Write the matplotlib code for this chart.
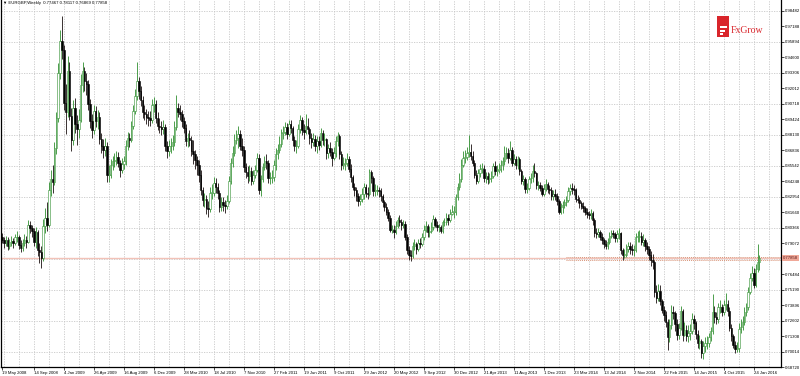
import matplotlib
matplotlib.use("Agg")
from matplotlib import pyplot as plt
from matplotlib.patches import Rectangle
import numpy as np

plt.rcParams['font.family'] = ['Liberation Sans', 'DejaVu Sans']

# EURGBP weekly candles, first bar = week of 18/19 May 2008
first_open = 0.7960

close = [
    0.7935, 0.7905, 0.7930, 0.7885, 0.7915, 0.7925, 0.7910, 0.7955, 0.7960, 0.7895,
    0.7870, 0.7905, 0.7935, 0.7920, 0.8060, 0.8030, 0.8010, 0.7920, 0.8000, 0.7850,
    0.7830, 0.7780, 0.8050, 0.8120, 0.8060, 0.8350, 0.8440, 0.8420, 0.8700, 0.8950,
    0.9330, 0.9600, 0.9520, 0.9080, 0.9000, 0.9350, 0.8970, 0.8770, 0.9040, 0.8900,
    0.8860, 0.8940, 0.9230, 0.9350, 0.9260, 0.9240, 0.9070, 0.8930, 0.8850, 0.9010,
    0.8930, 0.8960, 0.8780, 0.8720, 0.8690, 0.8720, 0.8480, 0.8480, 0.8560, 0.8590,
    0.8600, 0.8630, 0.8580, 0.8520, 0.8570, 0.8590, 0.8720, 0.8790, 0.8770, 0.8890,
    0.9010, 0.9140, 0.9260, 0.9180, 0.9100, 0.9000, 0.8990, 0.8960, 0.8950, 0.8940,
    0.9060, 0.9070, 0.8950, 0.8890, 0.8880, 0.8860, 0.8880, 0.8720, 0.8680, 0.8720,
    0.8720, 0.8750, 0.8880, 0.9040, 0.9000, 0.8990, 0.8930, 0.8870, 0.8760, 0.8790,
    0.8770, 0.8680, 0.8650, 0.8600, 0.8560, 0.8480, 0.8350, 0.8270, 0.8280, 0.8200,
    0.8190, 0.8330, 0.8330, 0.8410, 0.8380, 0.8330, 0.8210, 0.8250, 0.8230, 0.8220,
    0.8260, 0.8430, 0.8580, 0.8660, 0.8770, 0.8790, 0.8820, 0.8720, 0.8690, 0.8540,
    0.8500, 0.8470, 0.8510, 0.8430, 0.8480, 0.8520, 0.8620, 0.8350, 0.8440, 0.8540,
    0.8590, 0.8580, 0.8450, 0.8450, 0.8460, 0.8560, 0.8650, 0.8690, 0.8740, 0.8830,
    0.8840, 0.8880, 0.8820, 0.8900, 0.8870, 0.8770, 0.8720, 0.8720, 0.8860, 0.8940,
    0.8850, 0.8840, 0.8890, 0.8860, 0.8790, 0.8750, 0.8780, 0.8720, 0.8760, 0.8730,
    0.8830, 0.8770, 0.8780, 0.8660, 0.8700, 0.8670, 0.8620, 0.8660, 0.8760, 0.8800,
    0.8650, 0.8560, 0.8570, 0.8580, 0.8610, 0.8530, 0.8460, 0.8380, 0.8350, 0.8300,
    0.8260, 0.8280, 0.8320, 0.8380, 0.8330, 0.8320, 0.8500, 0.8450, 0.8340, 0.8350,
    0.8350, 0.8340, 0.8300, 0.8250, 0.8210, 0.8170, 0.8120, 0.8020, 0.8020, 0.8000,
    0.8050, 0.8100, 0.8080, 0.8060, 0.8070, 0.7960, 0.7850, 0.7810, 0.7800, 0.7880,
    0.7900, 0.7860, 0.7910, 0.7900, 0.7960, 0.8020, 0.8050, 0.8000, 0.8010, 0.8040,
    0.8110, 0.8060, 0.8040, 0.8040, 0.8010, 0.8080, 0.8080, 0.8120, 0.8100, 0.8150,
    0.8170, 0.8170, 0.8290, 0.8380, 0.8440, 0.8560, 0.8620, 0.8630, 0.8660, 0.8670,
    0.8640, 0.8580, 0.8480, 0.8430, 0.8490, 0.8530, 0.8530, 0.8450, 0.8470, 0.8440,
    0.8450, 0.8470, 0.8550, 0.8510, 0.8520, 0.8530, 0.8560, 0.8590, 0.8660, 0.8660,
    0.8620, 0.8690, 0.8580, 0.8610, 0.8560, 0.8610, 0.8510, 0.8430, 0.8440, 0.8360,
    0.8370, 0.8440, 0.8450, 0.8510, 0.8490, 0.8390, 0.8390, 0.8370, 0.8320, 0.8360,
    0.8400, 0.8360, 0.8350, 0.8300, 0.8320, 0.8300, 0.8260, 0.8170, 0.8210, 0.8230,
    0.8250, 0.8270, 0.8340, 0.8370, 0.8360, 0.8350, 0.8280, 0.8270, 0.8240, 0.8220,
    0.8200, 0.8170, 0.8150, 0.8140, 0.8160, 0.8100, 0.7990, 0.7980, 0.8000, 0.7960,
    0.7930, 0.7900, 0.7880, 0.7920, 0.7970, 0.7990, 0.7980, 0.7950, 0.7980, 0.7990,
    0.7850, 0.7810, 0.7810, 0.7860, 0.7880, 0.7860, 0.7850, 0.7850, 0.7960, 0.7960,
    0.7970, 0.7920, 0.7930, 0.7880, 0.7860, 0.7810, 0.7770, 0.7750, 0.7500, 0.7450,
    0.7510, 0.7420, 0.7350, 0.7310, 0.7250, 0.7120, 0.7220, 0.7330, 0.7320, 0.7230,
    0.7140, 0.7200, 0.7340, 0.7140, 0.7180, 0.7130, 0.7160, 0.7170, 0.7270, 0.7240,
    0.7150, 0.7070, 0.7090, 0.6990, 0.7050, 0.7070, 0.7070, 0.7120, 0.7170, 0.7330,
    0.7290, 0.7270, 0.7370, 0.7370, 0.7330, 0.7390, 0.7400, 0.7340, 0.7200, 0.7130,
    0.7060, 0.7020, 0.7030, 0.7190, 0.7210, 0.7250, 0.7330, 0.7370, 0.7500, 0.7620,
    0.7660, 0.7560, 0.7690, 0.77467, 0.77858,
]

high = [
    0.7990, 0.7960, 0.7965, 0.7955, 0.7945, 0.7970, 0.7950, 0.7985, 0.8010, 0.7975,
    0.7930, 0.7940, 0.7980, 0.7965, 0.8100, 0.8095, 0.8060, 0.8030, 0.8040, 0.8020,
    0.7905, 0.7880, 0.8110, 0.8200, 0.8250, 0.8420, 0.8520, 0.8560, 0.8750, 0.9000,
    0.9410, 0.9690, 0.9803, 0.9560, 0.9240, 0.9470, 0.9420, 0.9040, 0.9100, 0.9120,
    0.8980, 0.9030, 0.9320, 0.9420, 0.9380, 0.9330, 0.9270, 0.9110, 0.8990, 0.9060,
    0.9050, 0.9020, 0.9000, 0.8830, 0.8780, 0.8790, 0.8750, 0.8560, 0.8610, 0.8640,
    0.8660, 0.8680, 0.8670, 0.8600, 0.8620, 0.8640, 0.8770, 0.8840, 0.8830, 0.8930,
    0.9060, 0.9200, 0.9420, 0.9300, 0.9220, 0.9140, 0.9060, 0.9030, 0.9010, 0.9010,
    0.9110, 0.9130, 0.9100, 0.9000, 0.8950, 0.8930, 0.8940, 0.8900, 0.8760, 0.8770,
    0.8790, 0.8810, 0.8930, 0.9150, 0.9080, 0.9060, 0.9020, 0.8960, 0.8900, 0.8830,
    0.8850, 0.8800, 0.8770, 0.8690, 0.8640, 0.8600, 0.8520, 0.8380, 0.8330, 0.8310,
    0.8260, 0.8380, 0.8400, 0.8460, 0.8450, 0.8410, 0.8350, 0.8290, 0.8290, 0.8270,
    0.8310, 0.8470, 0.8620, 0.8720, 0.8820, 0.8850, 0.8890, 0.8850, 0.8790, 0.8720,
    0.8580, 0.8550, 0.8560, 0.8540, 0.8520, 0.8560, 0.8660, 0.8650, 0.8480, 0.8580,
    0.8640, 0.8650, 0.8600, 0.8500, 0.8520, 0.8600, 0.8700, 0.8740, 0.8800, 0.8860,
    0.8890, 0.8920, 0.8910, 0.8940, 0.8940, 0.8890, 0.8800, 0.8770, 0.8900, 0.8980,
    0.8960, 0.8900, 0.8990, 0.8950, 0.8880, 0.8830, 0.8830, 0.8810, 0.8800, 0.8800,
    0.8870, 0.8850, 0.8830, 0.8790, 0.8740, 0.8750, 0.8700, 0.8710, 0.8800, 0.8840,
    0.8820, 0.8680, 0.8630, 0.8620, 0.8660, 0.8640, 0.8570, 0.8480, 0.8410, 0.8380,
    0.8330, 0.8320, 0.8370, 0.8410, 0.8400, 0.8380, 0.8530, 0.8520, 0.8470, 0.8400,
    0.8390, 0.8380, 0.8370, 0.8320, 0.8270, 0.8240, 0.8190, 0.8140, 0.8060, 0.8060,
    0.8090, 0.8130, 0.8140, 0.8110, 0.8100, 0.8090, 0.7980, 0.7880, 0.7850, 0.7920,
    0.7940, 0.7920, 0.7940, 0.7950, 0.7990, 0.8060, 0.8090, 0.8070, 0.8050, 0.8080,
    0.8140, 0.8130, 0.8090, 0.8070, 0.8060, 0.8100, 0.8120, 0.8160, 0.8150, 0.8190,
    0.8230, 0.8220, 0.8320, 0.8410, 0.8490, 0.8610, 0.8680, 0.8690, 0.8710, 0.8815,
    0.8740, 0.8680, 0.8600, 0.8520, 0.8530, 0.8570, 0.8580, 0.8560, 0.8500, 0.8500,
    0.8490, 0.8510, 0.8580, 0.8590, 0.8560, 0.8580, 0.8600, 0.8630, 0.8720, 0.8710,
    0.8700, 0.8760, 0.8710, 0.8650, 0.8640, 0.8640, 0.8630, 0.8530, 0.8480, 0.8460,
    0.8410, 0.8470, 0.8490, 0.8560, 0.8580, 0.8500, 0.8430, 0.8420, 0.8390, 0.8400,
    0.8440, 0.8420, 0.8390, 0.8380, 0.8350, 0.8360, 0.8330, 0.8280, 0.8240, 0.8260,
    0.8280, 0.8300, 0.8380, 0.8400, 0.8410, 0.8390, 0.8370, 0.8310, 0.8290, 0.8260,
    0.8250, 0.8220, 0.8200, 0.8180, 0.8190, 0.8180, 0.8120, 0.8030, 0.8030, 0.8020,
    0.7990, 0.7950, 0.7930, 0.7950, 0.8000, 0.8020, 0.8020, 0.8000, 0.8020, 0.8030,
    0.8000, 0.7870, 0.7860, 0.7900, 0.7920, 0.7920, 0.7900, 0.7890, 0.7990, 0.8010,
    0.8020, 0.8000, 0.7980, 0.7950, 0.7920, 0.7880, 0.7840, 0.7820, 0.7770, 0.7560,
    0.7570, 0.7560, 0.7440, 0.7380, 0.7340, 0.7270, 0.7270, 0.7390, 0.7380, 0.7340,
    0.7270, 0.7240, 0.7380, 0.7360, 0.7250, 0.7220, 0.7220, 0.7230, 0.7320, 0.7310,
    0.7260, 0.7180, 0.7140, 0.7110, 0.7090, 0.7120, 0.7130, 0.7160, 0.7210, 0.7480,
    0.7380, 0.7330, 0.7410, 0.7430, 0.7400, 0.7430, 0.7490, 0.7430, 0.7370, 0.7230,
    0.7150, 0.7090, 0.7080, 0.7240, 0.7270, 0.7300, 0.7370, 0.7410, 0.7540, 0.7660,
    0.7720, 0.7700, 0.7730, 0.7900, 0.78117,
]

low = [
    0.7905, 0.7870, 0.7880, 0.7850, 0.7860, 0.7880, 0.7865, 0.7895, 0.7920, 0.7860,
    0.7835, 0.7840, 0.7880, 0.7870, 0.7905, 0.7990, 0.7960, 0.7880, 0.7870, 0.7800,
    0.7740, 0.7700, 0.7760, 0.7990, 0.8010, 0.8040, 0.8300, 0.8330, 0.8390, 0.8650,
    0.8920, 0.9280, 0.9450, 0.9020, 0.8820, 0.8960, 0.8940, 0.8680, 0.8730, 0.8830,
    0.8730, 0.8790, 0.8920, 0.9170, 0.9180, 0.9150, 0.9020, 0.8870, 0.8790, 0.8820,
    0.8880, 0.8860, 0.8740, 0.8660, 0.8620, 0.8640, 0.8420, 0.8420, 0.8450, 0.8520,
    0.8540, 0.8560, 0.8540, 0.8460, 0.8490, 0.8530, 0.8560, 0.8690, 0.8710, 0.8750,
    0.8860, 0.8990, 0.9100, 0.9110, 0.9050, 0.8950, 0.8940, 0.8900, 0.8890, 0.8890,
    0.8910, 0.9000, 0.8910, 0.8850, 0.8830, 0.8810, 0.8820, 0.8680, 0.8620, 0.8640,
    0.8660, 0.8690, 0.8720, 0.8850, 0.8960, 0.8940, 0.8880, 0.8830, 0.8720, 0.8710,
    0.8720, 0.8640, 0.8570, 0.8530, 0.8480, 0.8420, 0.8310, 0.8220, 0.8210, 0.8150,
    0.8130, 0.8170, 0.8280, 0.8300, 0.8330, 0.8280, 0.8170, 0.8180, 0.8180, 0.8160,
    0.8190, 0.8240, 0.8400, 0.8540, 0.8640, 0.8740, 0.8700, 0.8690, 0.8640, 0.8500,
    0.8450, 0.8410, 0.8430, 0.8390, 0.8400, 0.8450, 0.8500, 0.8320, 0.8300, 0.8420,
    0.8520, 0.8530, 0.8410, 0.8400, 0.8410, 0.8430, 0.8520, 0.8610, 0.8660, 0.8710,
    0.8780, 0.8810, 0.8780, 0.8800, 0.8830, 0.8720, 0.8680, 0.8660, 0.8700, 0.8830,
    0.8810, 0.8780, 0.8820, 0.8820, 0.8740, 0.8700, 0.8720, 0.8680, 0.8660, 0.8690,
    0.8710, 0.8730, 0.8720, 0.8610, 0.8620, 0.8640, 0.8550, 0.8600, 0.8630, 0.8720,
    0.8610, 0.8520, 0.8530, 0.8520, 0.8550, 0.8500, 0.8420, 0.8350, 0.8300, 0.8260,
    0.8220, 0.8230, 0.8250, 0.8280, 0.8290, 0.8280, 0.8300, 0.8410, 0.8300, 0.8300,
    0.8310, 0.8290, 0.8260, 0.8210, 0.8180, 0.8140, 0.8090, 0.8000, 0.7990, 0.7950,
    0.7980, 0.8030, 0.8050, 0.8020, 0.8030, 0.7930, 0.7820, 0.7770, 0.7755, 0.7780,
    0.7850, 0.7820, 0.7840, 0.7870, 0.7880, 0.7930, 0.8000, 0.7960, 0.7960, 0.7990,
    0.8020, 0.8040, 0.8010, 0.8000, 0.7990, 0.7990, 0.8050, 0.8060, 0.8060, 0.8080,
    0.8140, 0.8120, 0.8140, 0.8270, 0.8350, 0.8420, 0.8540, 0.8580, 0.8600, 0.8630,
    0.8600, 0.8550, 0.8450, 0.8400, 0.8410, 0.8460, 0.8490, 0.8420, 0.8410, 0.8400,
    0.8410, 0.8420, 0.8450, 0.8480, 0.8470, 0.8490, 0.8500, 0.8520, 0.8560, 0.8610,
    0.8580, 0.8600, 0.8550, 0.8560, 0.8530, 0.8530, 0.8480, 0.8400, 0.8390, 0.8330,
    0.8330, 0.8350, 0.8410, 0.8420, 0.8460, 0.8360, 0.8350, 0.8340, 0.8300, 0.8300,
    0.8340, 0.8330, 0.8320, 0.8270, 0.8270, 0.8270, 0.8230, 0.8150, 0.8150, 0.8160,
    0.8200, 0.8220, 0.8250, 0.8310, 0.8320, 0.8310, 0.8250, 0.8240, 0.8200, 0.8190,
    0.8170, 0.8140, 0.8120, 0.8110, 0.8110, 0.8060, 0.7960, 0.7950, 0.7960, 0.7930,
    0.7900, 0.7870, 0.7860, 0.7860, 0.7900, 0.7950, 0.7950, 0.7920, 0.7920, 0.7940,
    0.7820, 0.7770, 0.7780, 0.7790, 0.7830, 0.7820, 0.7810, 0.7800, 0.7830, 0.7920,
    0.7920, 0.7890, 0.7880, 0.7840, 0.7820, 0.7770, 0.7720, 0.7690, 0.7460, 0.7410,
    0.7420, 0.7390, 0.7320, 0.7260, 0.7210, 0.7015, 0.7080, 0.7190, 0.7270, 0.7170,
    0.7100, 0.7110, 0.7180, 0.7090, 0.7130, 0.7090, 0.7080, 0.7100, 0.7150, 0.7190,
    0.7110, 0.7030, 0.7020, 0.6950, 0.6936, 0.7000, 0.7020, 0.7040, 0.7090, 0.7150,
    0.7240, 0.7230, 0.7240, 0.7320, 0.7300, 0.7310, 0.7350, 0.7300, 0.7170, 0.7090,
    0.7030, 0.6990, 0.6994, 0.7000, 0.7160, 0.7180, 0.7220, 0.7300, 0.7350, 0.7480,
    0.7590, 0.7530, 0.7540, 0.7670, 0.76869,
]

tick_idx = [0] + [17 + 16 * k for k in range(25)]
tick_labels = [
    "19 May 2008", "14 Sep 2008", "4 Jan 2009", "26 Apr 2009", "16 Aug 2009",
    "6 Dec 2009", "28 Mar 2010", "18 Jul 2010", "7 Nov 2010", "27 Feb 2011",
    "19 Jun 2011", "9 Oct 2011", "29 Jan 2012", "20 May 2012", "9 Sep 2012",
    "30 Dec 2012", "21 Apr 2013", "11 Aug 2013", "1 Dec 2013", "23 Mar 2014",
    "13 Jul 2014", "2 Nov 2014", "22 Feb 2015", "14 Jun 2015", "4 Oct 2015",
    "24 Jan 2016",
]

zone_top, zone_bottom = 0.7792, 0.7770

close = np.array(close)
high = np.array(high)
low = np.array(low)
opn = np.r_[first_open, close[:-1]]
x = np.arange(len(close))
up = close >= opn

bull = '#2f8f2f'
bear = '#1a1010'
small = 3.1

fig = plt.figure(figsize=(8, 3.76), dpi=100)
fig.patch.set_facecolor('white')
ax = fig.add_axes([1 / 800, 9 / 376, 780 / 800, 367 / 376])

ymin, ymax = 0.6872, 0.9940
ax.set_xlim(-0.5, 415.5)
ax.set_ylim(ymin, ymax)

# grid
yt = ymin + 0.01294 * np.arange(24)
ax.hlines(yt[1::2], -0.5, 415.5, colors='#c8c8c8', linestyles=(0, (1.5, 1.5)), lw=0.6, zorder=0)
ax.vlines(np.arange(1, 416, 8), ymin, ymax, colors='#c8c8c8', linestyles=(0, (1.5, 1.5)), lw=0.6, zorder=0)

# bid line + zone
ax.axhline(close[-1], color='#f2c2b8', lw=1.0, zorder=1)
ax.hlines([zone_top, zone_bottom], 301, 415.5, colors='#d8957a', linestyles=(0, (1, 1)), lw=0.7, zorder=1)

# candles
ax.vlines(x[up], low[up], high[up], color=bull, lw=0.6, zorder=2)
ax.vlines(x[~up], low[~up], high[~up], color=bear, lw=0.6, zorder=2)
body_lo = np.minimum(opn, close)
body_h = np.maximum(np.abs(close - opn), 0.0003)
ax.bar(x[up], body_h[up], bottom=body_lo[up], width=0.85, color='white',
       edgecolor=bull, lw=0.4, zorder=3)
ax.bar(x[~up], body_h[~up], bottom=body_lo[~up], width=0.85, color='black',
       edgecolor='black', lw=0.4, zorder=3)

# axes look
ax.spines['top'].set_visible(False)
for s in ['left', 'right', 'bottom']:
    ax.spines[s].set_color('black')
    ax.spines[s].set_linewidth(0.9)

ylabels = [f"{v:.5f}" for v in yt]
ylabels[7] = ""  # hidden behind the price box
ax.yaxis.tick_right()
ax.set_yticks(yt, labels=ylabels)
ax.tick_params(axis='y', length=2, width=0.5, pad=0.8, labelsize=small, colors='black')
ax.set_xticks(tick_idx, labels=tick_labels)
ax.tick_params(axis='x', length=2, width=0.5, pad=1, labelsize=small, colors='black')
for t in ax.get_xticklabels():
    t.set_horizontalalignment('left')

# current price box on the scale
ax.text(1.003, close[-1], f"{close[-1]:.5f}", transform=ax.get_yaxis_transform(),
        ha='left', va='center', fontsize=small, color='#5a1a1a', zorder=5,
        bbox=dict(boxstyle='square,pad=0.2', fc='#f0a898', ec='none'), clip_on=False)

# header
ax.text(0.003, 0.997, "\u25bc EURGBP,Weekly  " + " ".join(f"{v:.5f}" for v in
        [opn[-1], high[-1], low[-1], close[-1]]),
        transform=ax.transAxes, ha='left', va='top', fontsize=small, color='black', zorder=5)

# FxGrow logo
def fx(px):
    return px / 800

def fy(py):
    return 1 - py / 376

fig.add_artist(Rectangle((fx(717), fy(37)), fx(12), 21 / 376, transform=fig.transFigure,
                         facecolor='#d9252b', edgecolor='none'))
for yy, ww in [(27, 7), (30.5, 5), (34, 3)]:
    fig.add_artist(Rectangle((fx(720), fy(yy + 1)), fx(ww), 1.6 / 376, transform=fig.transFigure,
                             facecolor='white', edgecolor='none'))
fig.text(fx(731), fy(30.5), "FxGrow", fontsize=7, color='#d9252b', family='Liberation Serif',
         ha='left', va='center')

fig.savefig('out.png', dpi=100)
